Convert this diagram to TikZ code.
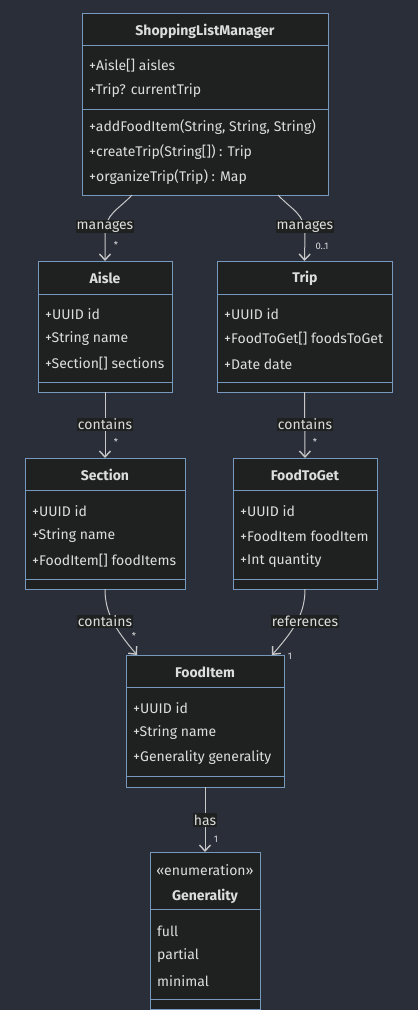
\documentclass[tikz,border=0pt]{standalone}
\usepackage{fontspec}
\setmainfont{Fira Sans}
\usetikzlibrary{arrows.meta}
\definecolor{bg}{HTML}{2A2E39}
\definecolor{boxfill}{HTML}{1F2020}
\definecolor{boxline}{HTML}{7799BE}
\definecolor{txt}{HTML}{DDDDDD}
\definecolor{edgec}{HTML}{C8C8C8}
\begin{document}
\begin{tikzpicture}[x=1pt,y=1pt,
 cbox/.style={draw=boxline, fill=boxfill, line width=1pt, anchor=north west, inner sep=0, outer sep=0},
 divl/.style={draw=boxline, line width=1pt},
 mem/.style={anchor=west, text=txt, font=\fontsize{14}{16}\selectfont, inner sep=0},
 ttl/.style={text=txt, font=\bfseries\fontsize{14}{16}\selectfont, inner sep=0},
 elab/.style={fill=boxfill, text=txt, font=\fontsize{14}{16}\selectfont, inner sep=1.2pt},
 mult/.style={text=txt, font=\fontsize{9.5}{10}\selectfont, inner sep=0},
 conn/.style={draw=edgec, line width=1pt},
 arr/.style={conn, -{Straight Barb[length=6pt,width=11pt,line width=1.4pt]}}
]
\fill[bg] (0,0) rectangle (418,-1010);
\useasboundingbox (0,0) rectangle (418,-1010);

% ShoppingListManager
\node[cbox, minimum width=246, minimum height=182] (slm) at (82,-13) {};
\draw[divl] (82,-45) -- (328,-45);
\draw[divl] (82,-109) -- (328,-109);
\node[ttl] (slmT) at (205,-31) {ShoppingListManager};
\node[mem] (slm1) at (89,-66) {+Aisle[] aisles};
\node[mem] (slm2) at (89,-91) {+Trip? currentTrip};
\node[mem] (slm3) at (89,-127) {+addFoodItem(String, String, String)};
\node[mem] (slm4) at (89,-152) {+createTrip(String[]) : Trip};
\node[mem] (slm5) at (89,-177) {+organizeTrip(Trip) : Map};

% Aisle
\node[cbox, minimum width=134, minimum height=131] (aisle) at (38,-261) {};
\draw[divl] (38,-294) -- (172,-294);
\draw[divl] (38,-382) -- (172,-382);
\node[ttl] (aisleT) at (105,-278) {Aisle};
\node[mem] (aisle1) at (45,-314) {+UUID id};
\node[mem] (aisle2) at (45,-339) {+String name};
\node[mem] (aisle3) at (45,-364) {+Section[] sections};

% Trip
\node[cbox, minimum width=175, minimum height=131] (trip) at (217,-261) {};
\draw[divl] (217,-294) -- (392,-294);
\draw[divl] (217,-382) -- (392,-382);
\node[ttl] (tripT) at (305,-278) {Trip};
\node[mem] (trip1) at (224,-314) {+UUID id};
\node[mem] (trip2) at (224,-339) {+FoodToGet[] foodsToGet};
\node[mem] (trip3) at (224,-364) {+Date date};

% Section
\node[cbox, minimum width=160, minimum height=131] (section) at (25,-458) {};
\draw[divl] (25,-490) -- (185,-490);
\draw[divl] (25,-579) -- (185,-579);
\node[ttl] (sectionT) at (105,-475) {Section};
\node[mem] (section1) at (32,-511) {+UUID id};
\node[mem] (section2) at (32,-536) {+String name};
\node[mem] (section3) at (32,-561) {+FoodItem[] foodItems};

% FoodToGet
\node[cbox, minimum width=144, minimum height=131] (ftg) at (233,-458) {};
\draw[divl] (233,-490) -- (377,-490);
\draw[divl] (233,-579) -- (377,-579);
\node[ttl] (ftgT) at (305,-475) {FoodToGet};
\node[mem] (ftg1) at (240,-511) {+UUID id};
\node[mem] (ftg2) at (240,-536) {+FoodItem foodItem};
\node[mem] (ftg3) at (240,-561) {+Int quantity};

% FoodItem
\node[cbox, minimum width=158, minimum height=132] (fi) at (126,-655) {};
\draw[divl] (126,-687) -- (284,-687);
\draw[divl] (126,-776) -- (284,-776);
\node[ttl] (fiT) at (205,-672) {FoodItem};
\node[mem] (fi1) at (133,-708) {+UUID id};
\node[mem] (fi2) at (133,-733) {+String name};
\node[mem] (fi3) at (133,-758) {+Generality generality};

% Generality
\node[cbox, minimum width=110, minimum height=157] (gen) at (150,-852) {};
\draw[divl] (150,-909) -- (260,-909);
\draw[divl] (150,-999) -- (260,-999);
\node[mem, anchor=center] (genS) at (205,-870) {«enumeration»};
\node[ttl] (genT) at (205,-896) {Generality};
\node[mem] (gen1) at (157,-931) {full};
\node[mem] (gen2) at (157,-956) {partial};
\node[mem] (gen3) at (157,-981) {minimal};

% connectors
\draw[arr] ([xshift=50]slm.south west) .. controls (118,-210) and (105,-214) .. (105,-234) -- (aisle.north);
\draw[arr] ([xshift=196]slm.south west) .. controls (292,-210) and (305,-214) .. (305,-234) -- (trip.north);
\draw[arr] (aisle.south) -- (section.north);
\draw[arr] (trip.south) -- (ftg.north);
\draw[arr] (section.south) .. controls (105,-612) and (114,-628) .. ([xshift=11]fi.north west);
\draw[arr] (ftg.south) .. controls (305,-612) and (296,-628) .. ([xshift=-12]fi.north east);
\draw[arr] (fi.south) -- (gen.north);

% edge labels
\node[elab] (l1) at (105,-226.5) {manages};
\node[elab] (l2) at (305,-226.5) {manages};
\node[elab] (l3) at (105,-424.5) {contains};
\node[elab] (l4) at (305,-424.5) {contains};
\node[elab] (l5) at (105,-621.5) {contains};
\node[elab] (l6) at (305,-621.5) {references};
\node[elab] (l7) at (205,-820) {has};

% multiplicities
\node[mult] (m1) at (116,-245) {*};
\node[mult] (m2) at (322,-246) {0..1};
\node[mult] (m3) at (116,-442) {*};
\node[mult] (m4) at (315,-442) {*};
\node[mult] (m5) at (134,-636) {*};
\node[mult] (m6) at (290,-656) {1};
\node[mult] (m7) at (216,-839) {1};
\end{tikzpicture}
\end{document}
